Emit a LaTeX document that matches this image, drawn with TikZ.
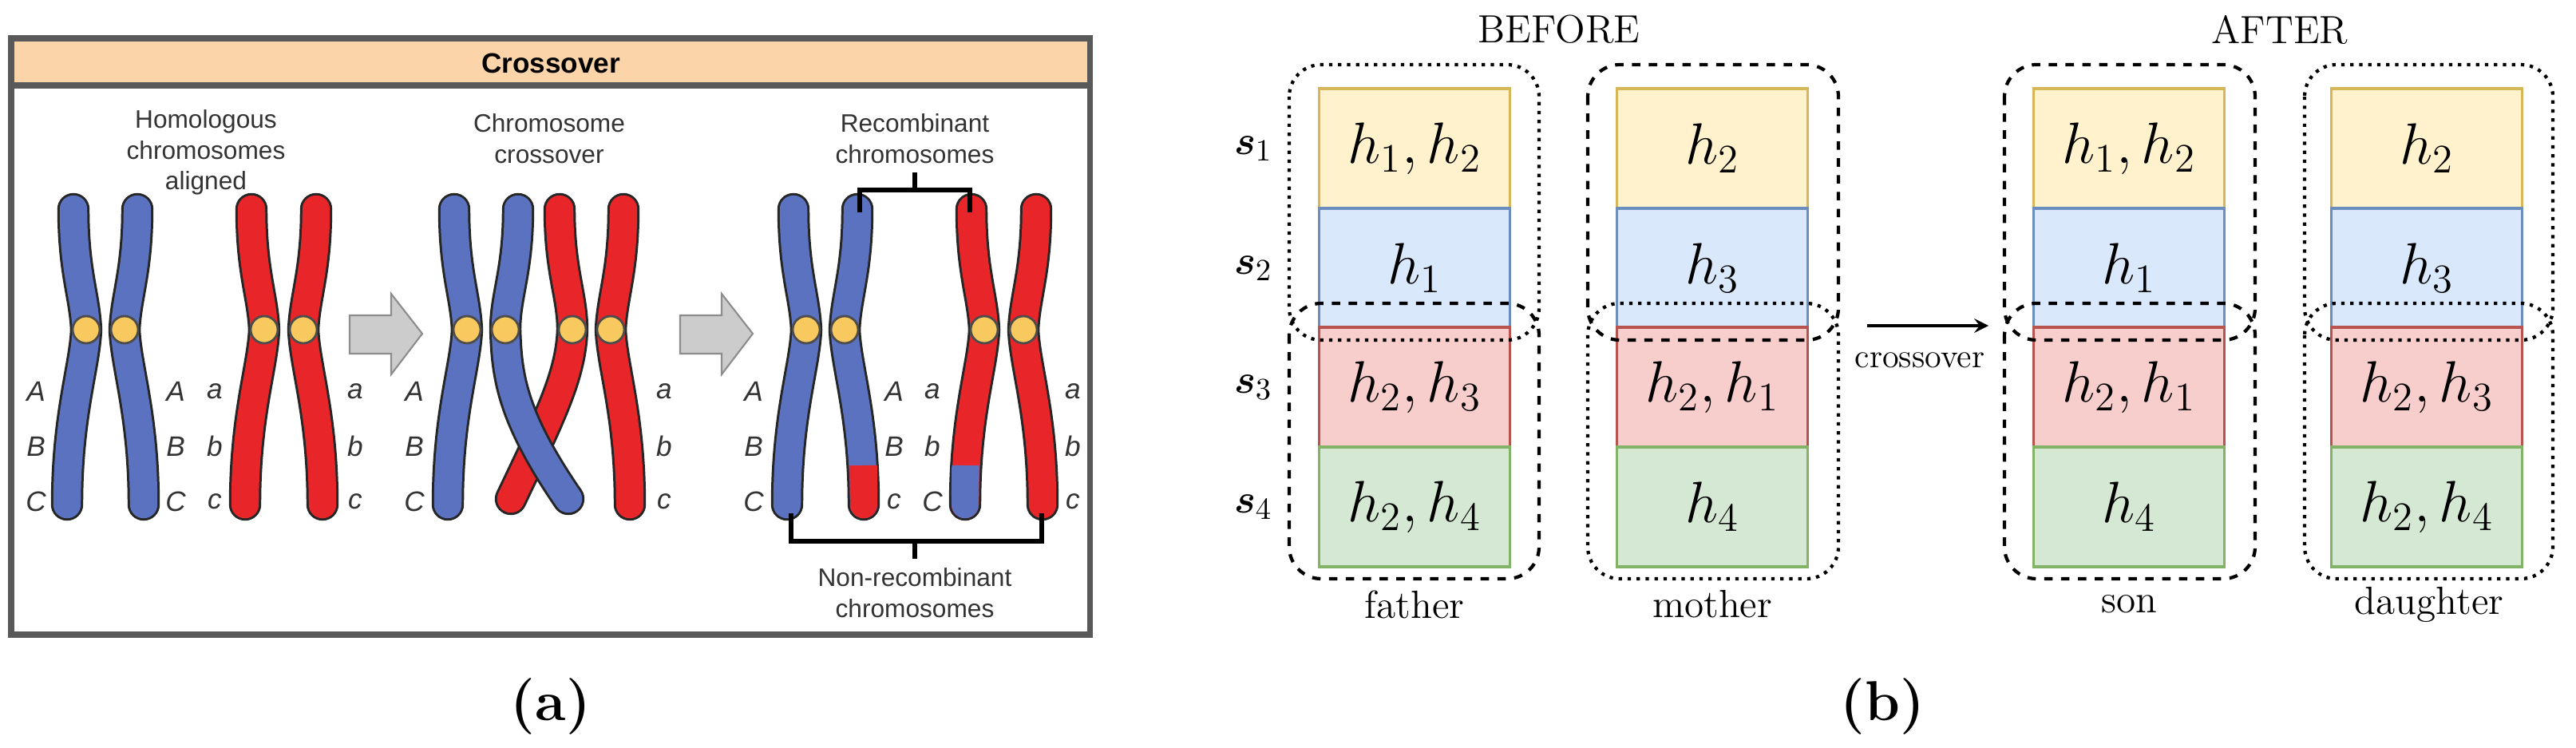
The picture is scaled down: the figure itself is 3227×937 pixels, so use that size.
\documentclass[tikz,border=0pt]{standalone}
\usepackage{amsmath}
\usepackage{fontspec}
\newfontfamily\sansf{Liberation Sans}
\usetikzlibrary{positioning}
\definecolor{chrblue}{HTML}{5B72C0}
\definecolor{chrred}{HTML}{E8262A}
\definecolor{cenyel}{HTML}{F7C95E}
\definecolor{hdr}{HTML}{FBD5A9}
\definecolor{yfill}{HTML}{FFF2CC}\definecolor{ydraw}{HTML}{D6B656}
\definecolor{bfill}{HTML}{DAE8FC}\definecolor{bdraw}{HTML}{6C8EBF}
\definecolor{rfill}{HTML}{F8CECC}\definecolor{rdraw}{HTML}{B85450}
\definecolor{gfill}{HTML}{D5E8D4}\definecolor{gdraw}{HTML}{82B366}
\tikzset{
  outl/.style={line width=11.5pt,line cap=round,black!85},
  chr/.style={line width=9.8pt,line cap=round,#1},
  cen/.style={circle,fill=cenyel,draw=black!70,line width=0.8pt,minimum size=0.34cm,inner sep=0},
  lbl/.style={font=\sansf\fontsize{9}{11}\selectfont,align=center,text=black!80},
  gene/.style={font=\sansf\itshape\fontsize{10}{11}\selectfont,text=black!80},
  blk/.style={fill=black!20,draw=black!45,line width=0.6pt},
  brk/.style={line width=1.6pt},
  box/.style={minimum width=2.39cm,minimum height=1.5cm,inner sep=0,line width=1pt,font=\fontsize{22}{24}\selectfont},
  grpdash/.style={dashed,line width=1.2pt,rounded corners=0.4cm},
  grpdot/.style={dotted,line width=1.2pt,rounded corners=0.4cm},
  who/.style={font=\fontsize{14}{16}\selectfont}
}
\newcommand{\chromatid}[3]{%
  \draw[outl] ({#2+#3*16},262) .. controls ({#2+#3*16},340) and ({#2+#3*2},370) .. (#2,413)
    .. controls ({#2+#3*2},460) and ({#2+#3*24},520) .. ({#2+#3*24},632);
  \draw[chr=#1] ({#2+#3*16},262) .. controls ({#2+#3*16},340) and ({#2+#3*2},370) .. (#2,413)
    .. controls ({#2+#3*2},460) and ({#2+#3*24},520) .. ({#2+#3*24},632);}
\begin{document}
\begin{tikzpicture}[x=0.01cm,y=-0.01cm]
\useasboundingbox (0,0) rectangle (3227,937);
% panel (a)
\fill[white] (14,48) rectangle (1365,795);
\fill[hdr] (14,48) rectangle (1365,107);
\draw[black!65,line width=2pt] (14,48) rectangle (1365,795);
\draw[black!65,line width=2pt] (14,107) -- (1365,107);
\node[font=\sansf\bfseries\fontsize{10}{11}\selectfont] (title) at (690,79) {Crossover};
\node[lbl] (hom) at (258,191) {Homologous\\chromosomes\\aligned};
\node[lbl] (cro) at (688,174) {Chromosome\\crossover};
\node[lbl] (rec) at (1146,174) {Recombinant\\chromosomes};
\node[lbl] (non) at (1146,743) {Non-recombinant\\chromosomes};
% aligned
\chromatid{chrblue}{108}{-1}
\chromatid{chrblue}{156}{1}
\chromatid{chrred}{331}{-1}
\chromatid{chrred}{380}{1}
% crossover
\chromatid{chrblue}{585}{-1}
\chromatid{chrred}{765}{1}
\draw[outl] (701,262) .. controls (701,340) and (717,370) .. (717,413) .. controls (715,470) and (690,520) .. (640,625);
\draw[chr=chrred] (701,262) .. controls (701,340) and (717,370) .. (717,413) .. controls (715,470) and (690,520) .. (640,625);
\draw[outl] (649,262) .. controls (649,340) and (633,370) .. (633,413) .. controls (635,470) and (640,520) .. (712,625);
\draw[chr=chrblue] (649,262) .. controls (649,340) and (633,370) .. (633,413) .. controls (635,470) and (640,520) .. (712,625);
% recombinant
\chromatid{chrblue}{1010}{-1}
\chromatid{chrblue}{1058}{1}
\chromatid{chrred}{1233}{-1}
\chromatid{chrred}{1282}{1}
\draw[chr=chrred,line cap=butt] (1081.5,583) -- (1082,622);
\draw[chr=chrred] (1082,618) -- (1082,632);
\draw[chr=chrblue,line cap=butt] (1209.5,583) -- (1209,622);
\draw[chr=chrblue] (1209,618) -- (1209,632);
\foreach \c [count=\i] in {108,156,331,380,585,633,717,765,1010,1058,1233,1282}
  \node[cen] (c\i) at (\c,413) {};
% gene labels
\foreach \x/\t in {45/A,220/A,519/A,944/A,1120/A,269/a,445/a,832/a,1168/a,1344/a}
  \node[gene] at (\x,490) {\t};
\foreach \x/\t in {45/B,220/B,519/B,944/B,1120/B,269/b,445/b,832/b,1168/b,1344/b}
  \node[gene] at (\x,559) {\t};
\foreach \x/\t in {45/C,220/C,519/C,944/C,1120/c,1168/C,269/c,445/c,832/c,1344/c}
  \node[gene] at (\x,628) {\t};
% arrows
\draw[blk] (438,395) -- (490,395) -- (490,368) -- (529,418) -- (490,469) -- (490,443) -- (438,443) -- cycle;
\draw[blk] (852,395) -- (904,395) -- (904,368) -- (943,418) -- (904,469) -- (904,443) -- (852,443) -- cycle;
% brackets
\coordinate (rt) at (1146,216);
\coordinate (rl) at (1077,266);
\coordinate (rr) at (1215,266);
\draw[brk] (rt) -- (1146,238);
\draw[brk] (rl) |- (1146,238) -| (rr);
\coordinate (nb) at (1146,700);
\coordinate (nl) at (991,643);
\coordinate (nr) at (1305,643);
\draw[brk] (nb) -- (1146,678);
\draw[brk] (nl) |- (1146,678) -| (nr);
\node[font=\bfseries\fontsize{20}{22}\selectfont] (pa) at (690,885) {(a)};
% panel (b)
\node[font=\fontsize{14}{16}\selectfont] (before) at (1953,37) {BEFORE};
\node[font=\fontsize{14}{16}\selectfont] (after) at (2856,37) {AFTER};
\foreach \i/\y in {1/186,2/336,3/485,4/635}
  \node[font=\fontsize{15}{16}\selectfont] (s\i) at (1570,\y) {$\boldsymbol{s}_{\i}$};
\foreach \col/\x/\a/\b/\c/\d in {f/1772/{h_1,h_2}/{h_1}/{h_2,h_3}/{h_2,h_4},
  m/2145/{h_2}/{h_3}/{h_2,h_1}/{h_4},
  n/2667/{h_1,h_2}/{h_1}/{h_2,h_1}/{h_4},
  d/3040/{h_2}/{h_3}/{h_2,h_3}/{h_2,h_4}}{
  \node[box,fill=yfill,draw=ydraw] (\col1) at (\x,186) {$\a$};
  \node[box,fill=bfill,draw=bdraw] (\col2) at (\x,336) {$\b$};
  \node[box,fill=rfill,draw=rdraw] (\col3) at (\x,485) {$\c$};
  \node[box,fill=gfill,draw=gdraw] (\col4) at (\x,635) {$\d$};
}
\draw[grpdot] (1615,81) rectangle (1928,426);
\draw[grpdash] (1615,380) rectangle (1928,725);
\draw[grpdash] (1989,81) rectangle (2303,426);
\draw[grpdot] (1989,380) rectangle (2303,725);
\draw[grpdash] (2511,81) rectangle (2825,426);
\draw[grpdash] (2511,380) rectangle (2825,725);
\draw[grpdot] (2887,81) rectangle (3198,426);
\draw[grpdot] (2887,380) rectangle (3198,725);
\node[who] (fa) at (1772,757) {father};
\node[who] (mo) at (2145,757) {mother};
\node[who] (so) at (2667,757) {son};
\node[who] (da) at (3043,757) {daughter};
\coordinate (a1) at (2339,408);
\coordinate (a2) at (2491,408);
\draw[-stealth,line width=1.2pt] (a1) -- (a2);
\node[font=\fontsize{12}{14}\selectfont] (co) at (2405,451) {crossover};
\node[font=\bfseries\fontsize{20}{22}\selectfont] (pb) at (2358,885) {(b)};
\end{tikzpicture}
\end{document}
